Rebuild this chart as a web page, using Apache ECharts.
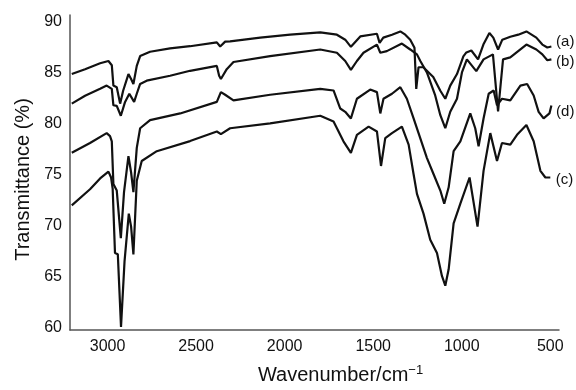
<!DOCTYPE html>
<html>
<head>
<meta charset="utf-8">
<script src="https://cdn.jsdelivr.net/npm/echarts@6/dist/echarts.min.js"></script>
<style>
  html, body { margin: 0; padding: 0; background: #fff; }
  #chart { width: 576px; height: 390px; }
</style>
</head>
<body>
<div id="chart"></div>
<script>
// FTIR spectra, wavenumber (cm-1) vs transmittance (%)
const waveA = [3202, 3127, 3042, 2995, 2976, 2967, 2948, 2929, 2912, 2882, 2867, 2854, 2835, 2816, 2760, 2647, 2534, 2383, 2364, 2336, 2308, 2138, 1969, 1799, 1705, 1658, 1626, 1573, 1479, 1464, 1443, 1394, 1347, 1319, 1291, 1267, 1257, 1244, 1217, 1161, 1121, 1093, 1065, 1027, 991, 974, 946, 908, 878, 844, 822, 795, 771, 726, 681, 635, 579, 545, 517, 494]
const transA = [84.86, 85.34, 85.92, 86.14, 85.73, 83.73, 83.57, 81.96, 83.22, 84.86, 84.37, 83.89, 85.66, 86.62, 87.05, 87.37, 87.59, 87.97, 87.56, 88.04, 88.07, 88.43, 88.72, 88.94, 88.72, 88.23, 87.53, 88.55, 88.81, 87.92, 88.43, 88.72, 89.04, 88.72, 88.23, 87.43, 83.41, 85.53, 85.53, 84.57, 83.22, 82.44, 83.73, 84.86, 86.59, 86.98, 87.17, 86.30, 87.75, 88.88, 88.43, 87.27, 88.23, 88.52, 88.72, 89.04, 88.43, 87.75, 87.46, 87.56]

const waveB = [3202, 3127, 3042, 3005, 2976, 2967, 2948, 2925, 2901, 2877, 2850, 2835, 2816, 2779, 2647, 2534, 2383, 2370, 2360, 2327, 2289, 2082, 1799, 1705, 1658, 1626, 1592, 1555, 1479, 1460, 1423, 1338, 1291, 1253, 1234, 1197, 1150, 1121, 1093, 1065, 1027, 999, 971, 918, 877, 824, 795, 767, 726, 635, 579, 545, 517, 494]
const transB = [81.96, 82.73, 83.41, 83.73, 83.41, 81.80, 81.74, 80.77, 82.13, 82.93, 82.13, 82.93, 83.89, 84.21, 84.69, 85.18, 85.66, 84.69, 84.37, 85.34, 86.04, 86.62, 87.27, 86.95, 86.14, 85.27, 86.14, 86.95, 87.75, 86.95, 87.11, 87.85, 87.27, 86.79, 86.14, 85.02, 82.76, 80.83, 79.55, 81.16, 82.44, 85.02, 86.30, 85.15, 86.30, 86.79, 81.19, 86.30, 86.50, 87.75, 87.27, 86.79, 86.21, 86.30]

const waveD = [3202, 3099, 3005, 2986, 2976, 2967, 2948, 2925, 2907, 2882, 2867, 2854, 2835, 2816, 2760, 2590, 2383, 2360, 2336, 2289, 2082, 1799, 1724, 1686, 1658, 1626, 1592, 1517, 1479, 1460, 1442, 1394, 1347, 1310, 1272, 1244, 1197, 1159, 1121, 1099, 1074, 1046, 1008, 952, 924, 905, 877, 848, 820, 801, 773, 726, 669, 631, 594, 566, 538, 505, 494]
const transD = [77.14, 78.10, 79.07, 78.78, 78.27, 74.08, 73.44, 68.77, 73.28, 76.82, 75.21, 73.28, 77.62, 79.55, 80.35, 81.00, 82.13, 83.09, 82.83, 82.28, 82.83, 83.41, 83.25, 81.48, 81.16, 80.51, 82.44, 83.34, 83.09, 81.00, 82.44, 82.93, 83.57, 82.44, 80.51, 79.07, 76.65, 75.04, 73.44, 72.15, 73.76, 77.30, 78.27, 81.00, 79.55, 77.78, 80.51, 82.93, 83.25, 81.80, 82.44, 82.28, 83.73, 83.89, 82.76, 81.16, 80.51, 81.00, 81.77]

const waveC = [3202, 3099, 3042, 2995, 2980, 2971, 2958, 2942, 2924, 2904, 2880, 2867, 2854, 2835, 2807, 2722, 2534, 2383, 2360, 2308, 2082, 1799, 1724, 1668, 1626, 1592, 1526, 1479, 1456, 1432, 1394, 1338, 1300, 1272, 1253, 1216, 1178, 1140, 1112, 1093, 1074, 1046, 1008, 956, 911, 877, 839, 801, 773, 726, 688, 635, 594, 556, 528, 500]
const transC = [71.99, 73.57, 74.63, 75.30, 74.72, 73.60, 67.32, 67.20, 60.08, 66.52, 71.18, 69.90, 67.17, 74.41, 76.34, 77.30, 78.29, 79.23, 78.97, 79.55, 80.03, 80.77, 80.20, 78.27, 77.14, 78.90, 79.71, 79.23, 75.85, 78.58, 79.07, 79.71, 77.94, 75.04, 73.11, 71.18, 68.62, 67.32, 65.07, 64.11, 65.72, 70.22, 72.15, 74.72, 69.90, 75.37, 79.07, 76.34, 78.10, 77.94, 78.90, 79.87, 78.27, 75.37, 74.72, 74.72]

const seriesNames = ['(a)', '(b)', '(d)', '(c)']
const labelOffsetY = [-5, 2, 6, 2]

const font = 'Liberation Sans, Arial, sans-serif'
const ink = '#111'

const zip = (xs, ys) => xs.map((x, i) => [x, ys[i]])
const curves = [zip(waveA, transA), zip(waveB, transB), zip(waveD, transD), zip(waveC, transC)]

const chart = echarts.init(document.getElementById('chart'))

chart.setOption({
  animation: false,
  backgroundColor: '#fff',
  grid: { left: 70, right: 17, top: 15, bottom: 55, containLabel: false },
  xAxis: {
    type: 'value',
    inverse: true,
    min: 451,
    max: 3212,
    splitNumber: 5,
    name: 'Wavenumber/cm{sup|−1}',
    nameLocation: 'middle',
    nameGap: 34,
    nameTextStyle: {
      color: ink, fontSize: 20, fontFamily: font,
      padding: [0, 0, 0, 52],
      rich: { sup: { fontSize: 13, fontFamily: font, color: ink, padding: [0, 0, 9, 0] } }
    },
    axisLine: { lineStyle: { color: '#555', width: 1.5 } },
    axisTick: { show: false },
    splitLine: { show: false },
    axisLabel: {
      color: ink, fontSize: 16, fontFamily: font, margin: 9,
      showMinLabel: false, showMaxLabel: false,
      formatter: v => String(v)
    }
  },
  yAxis: {
    type: 'value',
    min: 59.77,
    max: 90.65,
    splitNumber: 6,
    name: 'Transmittance (%)',
    nameLocation: 'middle',
    nameRotate: 90,
    nameGap: 37,
    nameTextStyle: { color: ink, fontSize: 20, fontFamily: font, padding: [0, 14, 0, 0] },
    axisLine: { show: true, lineStyle: { color: '#555', width: 1.5 } },
    axisTick: { show: false },
    splitLine: { show: false },
    axisLabel: {
      color: ink, fontSize: 16, fontFamily: font, margin: 8,
      showMinLabel: false, showMaxLabel: false
    }
  },
  series: curves.map((data, i) => ({
    name: seriesNames[i],
    type: 'line',
    data: data,
    symbol: 'none',
    lineStyle: { color: ink, width: 2.2 },
    endLabel: {
      show: true,
      formatter: seriesNames[i],
      color: ink,
      fontSize: 15,
      fontFamily: font,
      distance: 5,
      offset: [28, labelOffsetY[i]]
    }
  }))
})
</script>
</body>
</html>
